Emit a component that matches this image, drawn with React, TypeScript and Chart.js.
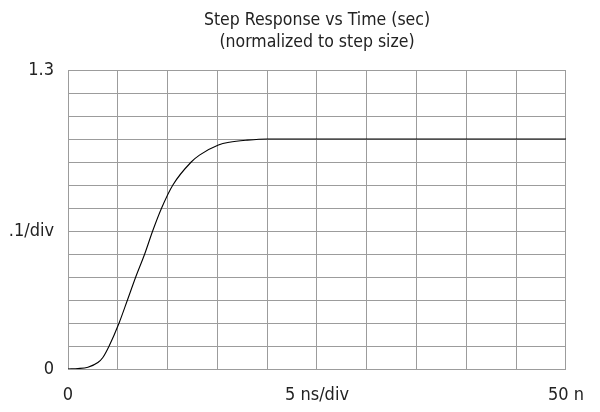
import React, { useEffect, useRef } from "react";
import { Chart, registerables } from "chart.js";

Chart.register(...registerables);

const titleLines = ["Step Response vs Time (sec)", "(normalized to step size)"];
const timeNs = [0, 1, 2, 3, 3.5, 4.13, 5.13, 5.97, 6.8, 7.7, 8.5, 9.4, 10.53, 12.37, 13.2, 15.1, 16.2, 18, 20, 50];
const response = [0, 0.002, 0.008, 0.028, 0.05, 0.1, 0.2, 0.3, 0.4, 0.5, 0.6, 0.7, 0.8, 0.9, 0.93, 0.974, 0.986, 0.995, 1.0, 1.0];
const xTickLabels: Record<number, string> = { 0: "0", 25: "5 ns/div", 50: "50 n" };
const yTickLabels: Record<string, string> = { "0": "0", "0.6": ".1/div", "1.3": "1.3" };

const FONT = "'DejaVu Sans Condensed', 'Liberation Sans Narrow', sans-serif";
const GRID = "#9c9c9c";

const centerTitleOnPlot = {
  id: "centerTitleOnPlot",
  afterLayout(chart: any) {
    const t = chart.titleBlock;
    if (t) {
      t.left = chart.chartArea.left;
      t.right = chart.chartArea.right;
    }
  },
};

export default function App() {
  const ref = useRef<HTMLCanvasElement | null>(null);
  useEffect(() => {
    if (!ref.current) return;
    const chart = new Chart(ref.current, {
      type: "line",
      data: {
        datasets: [
          {
            data: timeNs.map((t, i) => ({ x: t, y: response[i] })),
            borderColor: "#000",
            borderWidth: 1.1,
            pointRadius: 0,
            cubicInterpolationMode: "monotone",
            fill: false,
          },
        ],
      },
      plugins: [centerTitleOnPlot],
      options: {
        animation: false,
        responsive: false,
        layout: { padding: { left: 0, right: 29, top: 0, bottom: 0 } },
        plugins: {
          legend: { display: false },
          tooltip: { enabled: false },
          title: {
            display: true,
            text: titleLines,
            color: "#222",
            font: { family: FONT, size: 17.5, weight: "normal", lineHeight: 22 / 17.5 },
            padding: { top: 9, bottom: 17 },
          },
        },
        scales: {
          x: {
            type: "linear",
            min: 0,
            max: 50,
            afterFit: (s: any) => {
              s.height = 43;
            },
            border: { color: GRID, width: 1 },
            grid: { color: GRID, lineWidth: 1, drawTicks: false },
            ticks: {
              stepSize: 5,
              padding: 16,
              maxRotation: 0,
              autoSkip: false,
              color: "#222",
              font: { family: FONT, size: 18 },
              callback: (v: any) => xTickLabels[Math.round(Number(v))] ?? "",
            },
          },
          y: {
            type: "linear",
            min: 0,
            max: 1.3,
            afterFit: (s: any) => {
              s.width = 68;
            },
            border: { color: GRID, width: 1 },
            grid: { color: GRID, lineWidth: 1, drawTicks: false },
            ticks: {
              stepSize: 0.1,
              padding: 14,
              autoSkip: false,
              color: "#222",
              font: { family: FONT, size: 18 },
              callback: (v: any) => yTickLabels[String(Math.round(Number(v) * 10) / 10)] ?? "",
            },
          },
        },
      },
    } as any);
    return () => chart.destroy();
  }, []);
  return (
    <div style={{ position: "fixed", left: 0, top: 0, width: 600, height: 412, background: "#fff" }}>
      <canvas ref={ref} width={600} height={412} />
    </div>
  );
}
